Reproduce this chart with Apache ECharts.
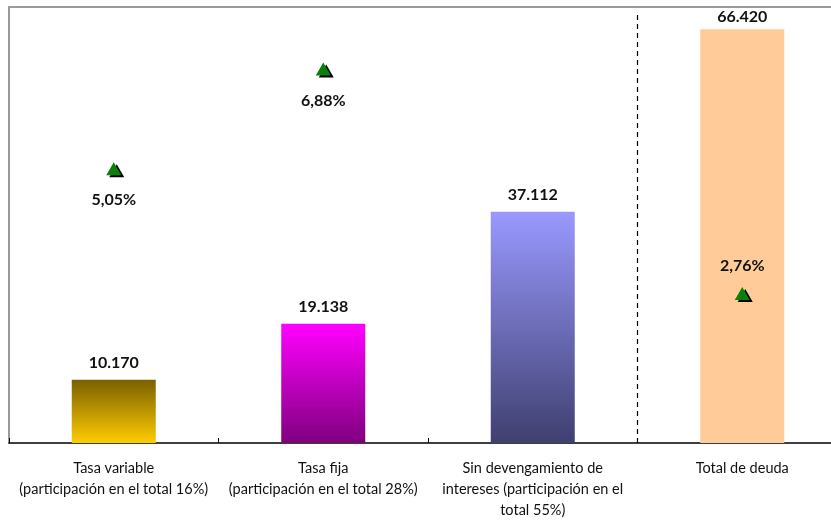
<!DOCTYPE html>
<html>
<head>
<meta charset="utf-8">
<script src="https://cdn.jsdelivr.net/npm/echarts@6/dist/echarts.min.js"></script>
<style>html,body{margin:0;padding:0;background:#fff;overflow:hidden}#c{width:831px;height:522px}</style>
</head>
<body>
<div id="c"></div>
<script>
const categories = [
  "Tasa variable\n(participación en el total 16%)",
  "Tasa fija\n(participación en el total 28%)",
  "Sin devengamiento de\nintereses (participación en el\ntotal 55%)",
  "Total de deuda"
];
const amounts = [10170, 19138, 37112, 66420];
const rates = [5.05, 6.88, null, 2.76];
const rateLabelPos = ["bottom", "bottom", "bottom", "top"];
const dividerAt = 3;

const barStyles = [
  {type:'linear',x:0,y:0,x2:0,y2:1,colorStops:[{offset:0,color:'#7a6000'},{offset:1,color:'#ffcc00'}]},
  {type:'linear',x:0,y:0,x2:0,y2:1,colorStops:[{offset:0,color:'#ff00ff'},{offset:1,color:'#7f007f'}]},
  {type:'linear',x:0,y:0,x2:0,y2:1,colorStops:[{offset:0,color:'#9999ff'},{offset:1,color:'#3f3f70'}]},
  '#ffcc99'
];

const fmtThousands = v => String(v).replace(/\B(?=(\d{3})+(?!\d))/g, '.');
const fmtPct = v => v.toFixed(2).replace('.', ',') + '%';

const chart = echarts.init(document.getElementById('c'), null, {renderer:'canvas'});
chart.setOption({
  animation: false,
  backgroundColor: '#fff',
  grid: {left: 9, width: 838, top: 7, height: 436, show: false,
         outerBoundsMode: 'none', containLabel: false},
  xAxis: [
    {type:'category', data: categories, boundaryGap: true,
     axisLine:{show:true, lineStyle:{color:'#000', width:1.5}},
     axisTick:{show:true, inside:true, length:5, interval:0, lineStyle:{color:'#000'}},
     axisLabel:{interval:0, color:'#111', fontFamily:'Lato', fontSize:14.5, lineHeight:21, margin:15}},
    {type:'value', min:0, max:4, position:'top', show:true,
     axisLine:{show:true, onZero:false, lineStyle:{color:'#999', width:2}},
     axisTick:{show:false}, axisLabel:{show:false}, splitLine:{show:false}}
  ],
  yAxis: [
    {type:'value', min:0, max:70000, axisLine:{show:true, lineStyle:{color:'#999', width:2}},
     axisTick:{show:false}, axisLabel:{show:false}, splitLine:{show:false}},
    {type:'value', min:0, max:8, show:false, axisLine:{show:false}, splitLine:{show:false}}
  ],
  series: [
    {type:'bar', barWidth: 84, xAxisIndex:0, yAxisIndex:0,
     data: amounts.map((v,i)=>({value:v, itemStyle:{color:barStyles[i]},
       label:{distance: i===3 ? 4 : 9}})),
     label:{show:true, position:'top', formatter:p=>fmtThousands(p.value),
            fontFamily:'Lato', fontWeight:'bold', fontSize:16, color:'#111'}},
    {type:'line', xAxisIndex:1, yAxisIndex:0, data:[[dividerAt,0],[dividerAt,69000]],
     symbol:'none', lineStyle:{color:'#000', width:1.2, type:[5,4]}, z:1, silent:true},
    {type:'scatter', xAxisIndex:0, yAxisIndex:1, data: rates, symbol:'triangle', symbolSize:[15,13],
     symbolOffset:[3,3], itemStyle:{color:'#000', opacity:1}, z:3, silent:true},
    {type:'scatter', xAxisIndex:0, yAxisIndex:1, symbol:'triangle', symbolSize:[15,13],
     symbolOffset:[0,1], itemStyle:{color:'#0a800a', opacity:1}, z:4,
     data: rates.map((v,i)=>v==null?null:({value:v,
       label:{position:rateLabelPos[i], distance: rateLabelPos[i]==='top'?13:17, color:'#111'}})),
     label:{show:true, formatter:p=>fmtPct(p.value), opacity:1,
            fontFamily:'Lato', fontWeight:'bold', fontSize:16, color:'#111'}}
  ]
});
</script>
</body>
</html>
